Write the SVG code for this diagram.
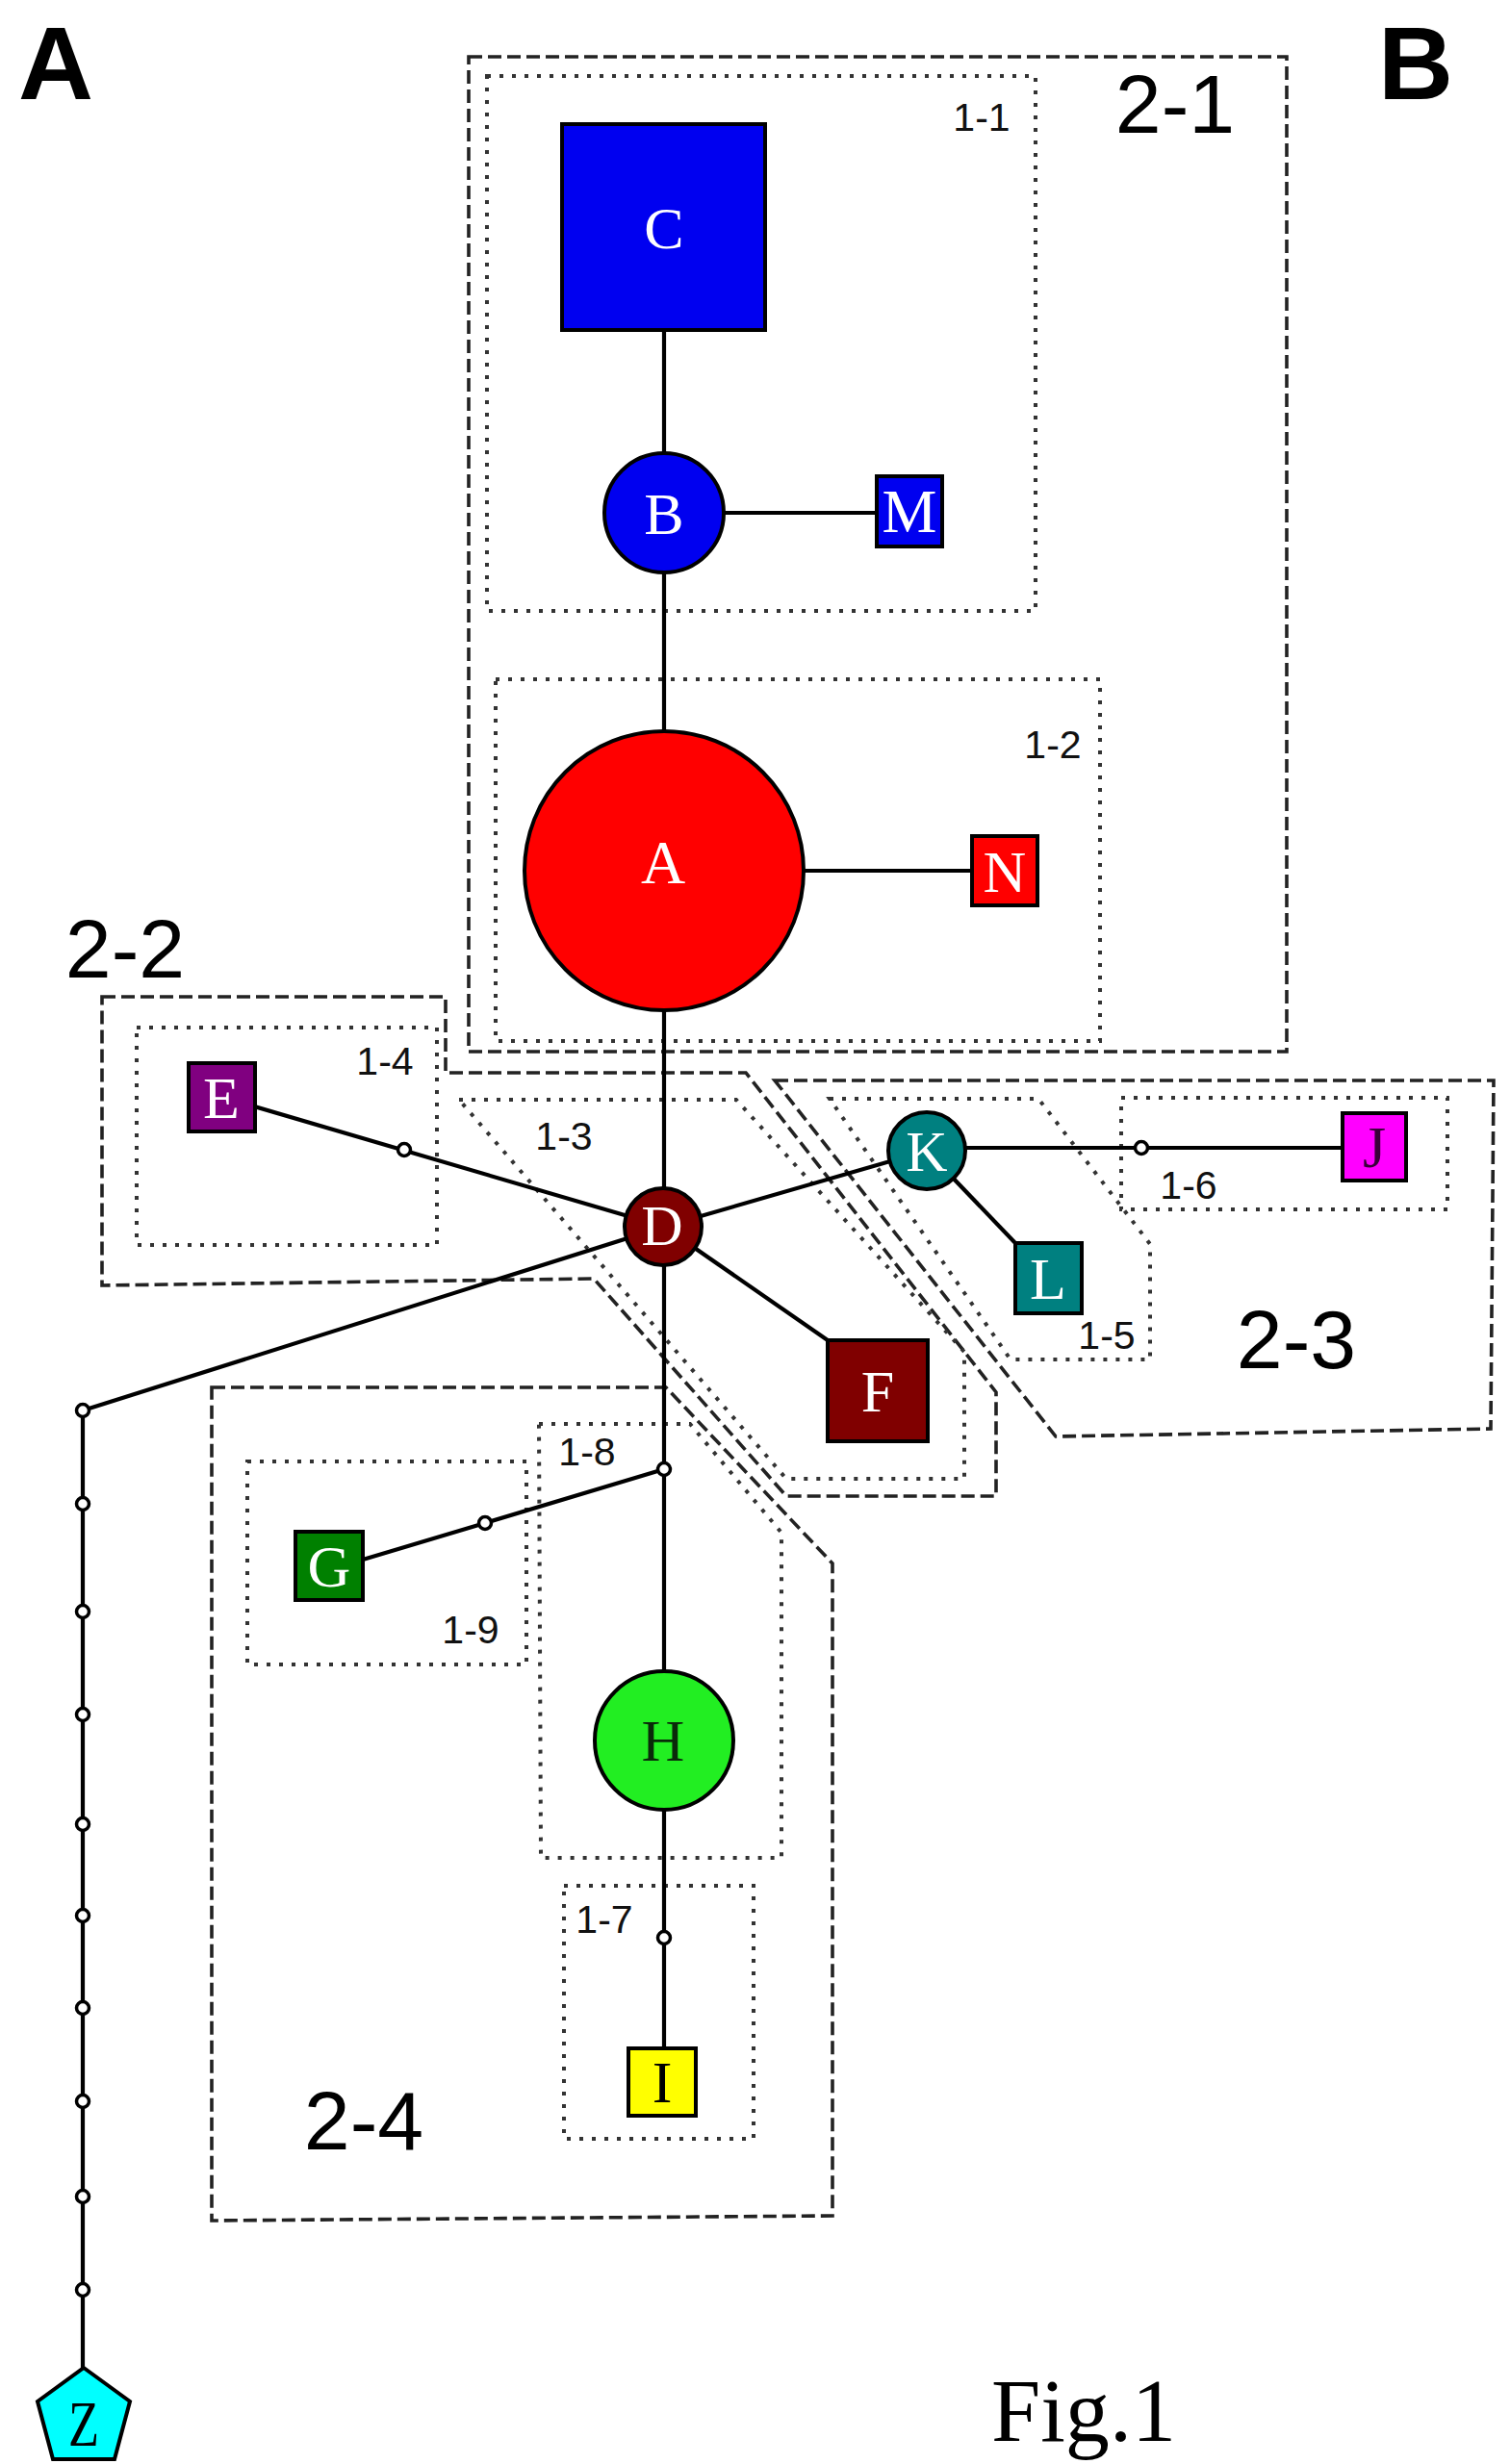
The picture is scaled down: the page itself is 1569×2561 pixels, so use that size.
<svg xmlns="http://www.w3.org/2000/svg" width="1569" height="2561" viewBox="0 0 1569 2561">
  <style>
    .dash { fill: none; stroke: #222; stroke-width: 3.6; stroke-dasharray: 14 6; }
    .dot { fill: none; stroke: #333; stroke-width: 4; stroke-dasharray: 4 9; }
    .edge { fill: none; stroke: #000; stroke-width: 4.2; }
    .node { stroke: #000; stroke-width: 4; }
    .hop { fill: #fff; stroke: #000; stroke-width: 3.5; }
    .nl { font-family: "Liberation Serif", "Times New Roman", serif; font-size: 62px; text-anchor: middle; fill: #fff; }
    .sl { font-family: "Liberation Sans", Arial, sans-serif; font-size: 41px; text-anchor: middle; fill: #111; }
    .bl { font-family: "Liberation Sans", Arial, sans-serif; font-size: 86px; text-anchor: middle; fill: #000; }
    .panel { font-family: "Liberation Sans", Arial, sans-serif; font-weight: bold; font-size: 108px; text-anchor: middle; fill: #000; }
  </style>

  <!-- outer group outlines (level 2) -->
  <g id="groups-level2">
    <rect class="dash" x="487" y="59" width="850" height="1034"/>
    <polygon class="dash" points="106,1036 463,1036 463,1115 775,1115 1035,1447 1035,1555 817,1555 617,1329 106,1336"/>
    <polygon class="dash" points="805,1123 1552,1123 1549,1485 1097,1493"/>
    <polygon class="dash" points="220,1442 692,1442 865,1625 865,2303 220,2308"/>
  </g>

  <!-- inner group outlines (level 1) -->
  <g id="groups-level1">
    <rect class="dot" x="506" y="79" width="570" height="556"/>
    <rect class="dot" x="515" y="706" width="628" height="376"/>
    <polygon class="dot" points="477,1143 765,1143 1002,1405 1002,1537 817,1537"/>
    <rect class="dot" x="142" y="1068" width="312" height="226"/>
    <polygon class="dot" points="862,1142 1079,1142 1195,1293 1195,1413 1050,1413"/>
    <rect class="dot" x="1165" y="1141" width="339" height="116"/>
    <rect class="dot" x="586" y="1960" width="197" height="263"/>
    <polygon class="dot" points="560,1480 717,1480 812,1593 812,1931 562,1931"/>
    <rect class="dot" x="257" y="1519" width="290" height="211"/>
  </g>

  <!-- connectors -->
  <g id="connectors">
    <line class="edge" x1="690" y1="343" x2="690" y2="471"/>
    <line class="edge" x1="751" y1="533" x2="911" y2="533"/>
    <line class="edge" x1="690" y1="595" x2="690" y2="760"/>
    <line class="edge" x1="835" y1="905" x2="1010" y2="905"/>
    <line class="edge" x1="690" y1="1050" x2="690" y2="1235"/>
    <line class="edge" x1="230" y1="1140" x2="690" y2="1275"/>
    <line class="edge" x1="690" y1="1275" x2="963" y2="1196"/>
    <line class="edge" x1="963" y1="1193" x2="1395" y2="1193"/>
    <line class="edge" x1="963" y1="1196" x2="1055" y2="1292"/>
    <line class="edge" x1="690" y1="1275" x2="860" y2="1393"/>
    <line class="edge" x1="690" y1="1275" x2="86" y2="1466"/>
    <line class="edge" x1="86" y1="1466" x2="86" y2="2461"/>
    <line class="edge" x1="690" y1="1315" x2="690" y2="1737"/>
    <polyline class="edge" points="690,1527 504,1583 377,1621"/>
    <line class="edge" x1="690" y1="1881" x2="690" y2="2129"/>
  </g>

  <!-- intermediate (unsampled) vertices -->
  <g id="hops">
    <circle class="hop" cx="420" cy="1195" r="6.5"/>
    <circle class="hop" cx="1186" cy="1193" r="6.5"/>
    <circle class="hop" cx="690" cy="1527" r="6.5"/>
    <circle class="hop" cx="504" cy="1583" r="6.5"/>
    <circle class="hop" cx="690" cy="2014" r="6.5"/>
    <circle class="hop" cx="86" cy="1466" r="6.5"/>
    <circle class="hop" cx="86" cy="1563" r="6.5"/>
    <circle class="hop" cx="86" cy="1675" r="6.5"/>
    <circle class="hop" cx="86" cy="1782" r="6.5"/>
    <circle class="hop" cx="86" cy="1896" r="6.5"/>
    <circle class="hop" cx="86" cy="1991" r="6.5"/>
    <circle class="hop" cx="86" cy="2087" r="6.5"/>
    <circle class="hop" cx="86" cy="2184" r="6.5"/>
    <circle class="hop" cx="86" cy="2283" r="6.5"/>
    <circle class="hop" cx="86" cy="2380" r="6.5"/>
  </g>

  <!-- haplotype nodes -->
  <g id="node-C">
    <rect class="node" x="584" y="129" width="211" height="214" fill="#0000f0"/>
    <text class="nl" x="690" y="258">C</text>
  </g>
  <g id="node-B">
    <circle class="node" cx="690" cy="533" r="62" fill="#0000f0"/>
    <text class="nl" x="690" y="555">B</text>
  </g>
  <g id="node-M">
    <rect class="node" x="911" y="495" width="68" height="73" fill="#0000f0"/>
    <text class="nl" x="945" y="553" style="font-size:64px">M</text>
  </g>
  <g id="node-A">
    <circle class="node" cx="690" cy="905" r="145" fill="#ff0000"/>
    <text class="nl" x="689" y="918" style="font-size:64px">A</text>
  </g>
  <g id="node-N">
    <rect class="node" x="1010" y="869" width="68" height="72" fill="#ff0000"/>
    <text class="nl" x="1044" y="927">N</text>
  </g>
  <g id="node-D">
    <circle class="node" cx="689" cy="1275" r="40" fill="#800000"/>
    <text class="nl" x="688" y="1294" style="font-size:60px">D</text>
  </g>
  <g id="node-E">
    <rect class="node" x="196" y="1105" width="69" height="71" fill="#800080"/>
    <text class="nl" x="230" y="1162">E</text>
  </g>
  <g id="node-F">
    <rect class="node" x="860" y="1393" width="104" height="105" fill="#800000"/>
    <text class="nl" x="912" y="1467">F</text>
  </g>
  <g id="node-K">
    <circle class="node" cx="963" cy="1196" r="40" fill="#008080"/>
    <text class="nl" x="963" y="1217" style="font-size:60px">K</text>
  </g>
  <g id="node-L">
    <rect class="node" x="1055" y="1292" width="69" height="73" fill="#008080"/>
    <text class="nl" x="1089" y="1350">L</text>
  </g>
  <g id="node-J">
    <rect class="node" x="1395" y="1157" width="66" height="70" fill="#ff00ff"/>
    <text class="nl" x="1428" y="1213" style="fill:#3a003a">J</text>
  </g>
  <g id="node-G">
    <rect class="node" x="307" y="1592" width="70" height="71" fill="#008000"/>
    <text class="nl" x="342" y="1649">G</text>
  </g>
  <g id="node-H">
    <circle class="node" cx="690" cy="1809" r="72" fill="#22ee22"/>
    <text class="nl" x="689" y="1830" style="fill:#0a2a0a">H</text>
  </g>
  <g id="node-I">
    <rect class="node" x="653" y="2129" width="70" height="70" fill="#ffff00"/>
    <text class="nl" x="688" y="2185" style="fill:#000">I</text>
  </g>
  <g id="node-Z">
    <polygon class="node" points="87,2461 135,2496 119,2556 55,2556 39,2496" fill="#00ffff"/>
    <text class="nl" x="87" y="2542" style="fill:#000;font-size:68px" textLength="32" lengthAdjust="spacingAndGlyphs">Z</text>
  </g>

  <!-- group labels -->
  <g id="labels">
    <text class="sl" x="1020" y="136">1-1</text>
    <text class="sl" x="1094" y="788">1-2</text>
    <text class="sl" x="586" y="1195">1-3</text>
    <text class="sl" x="400" y="1117">1-4</text>
    <text class="sl" x="1150" y="1402">1-5</text>
    <text class="sl" x="1235" y="1246">1-6</text>
    <text class="sl" x="628" y="2009">1-7</text>
    <text class="sl" x="610" y="1523">1-8</text>
    <text class="sl" x="489" y="1708">1-9</text>
    <text class="bl" x="1221" y="138">2-1</text>
    <text class="bl" x="130" y="1016">2-2</text>
    <text class="bl" x="1347" y="1422">2-3</text>
    <text class="bl" x="378" y="2234">2-4</text>
    <text class="panel" x="58" y="103">A</text>
    <text class="panel" x="1471" y="103">B</text>
    <text x="1030" y="2537" font-family="'Liberation Serif', 'Times New Roman', serif" font-size="94" fill="#000" textLength="192" lengthAdjust="spacingAndGlyphs">Fig.1</text>
  </g>
</svg>
